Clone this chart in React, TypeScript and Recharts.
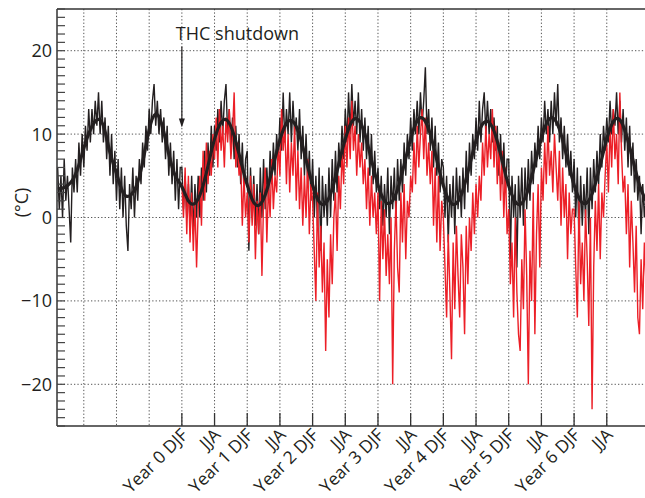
import React from 'react';
import {
  LineChart,
  Line,
  XAxis,
  YAxis,
  CartesianGrid,
  ReferenceLine,
  ReferenceDot,
} from 'recharts';

// samples are ~9 days apart, starting 1.9 years before the shutdown
const START_YEAR = -1.9;
const SAMPLES_PER_YEAR = 40;
const SHUTDOWN_INDEX = 76;
const MEAN_EVERY = 4;

// control run, daily-ish temperature (°C)
const CONTROL = [
  6, 1, 5, 0, 7, 2, 5, 1, -3, 6,
  3, 7, 3, 9, 5, 10, 6, 11, 8, 13,
  9, 13, 10, 14, 11, 15, 10, 14, 9, 12,
  7, 11, 5, 10, 4, 8, 2, 7, 1, 6,
  0, 5, -1, -4, 4, 1, 6, 0, 5, 2,
  7, 4, 9, 6, 11, 8, 13, 10, 14, 16,
  11, 14, 10, 13, 9, 12, 7, 11, 5, 9,
  4, 8, 2, 7, 1, 6,
  // year 0
  6, 1, 5, 0, 4, -1, 5, -2, 4, 0,
  5, 0, 6, 2, 8, 3, 9, 5, 11, 6,
  11, 8, 13, 9, 14, 10, 14, 16, 10, 13,
  8, 12, 7, 11, 6, 10, 4, 9, 3, 7,
  // year 1
  8, -4, 6, 0, 5, -1, 4, -2, 6, 0,
  7, 1, 6, 2, 8, 4, 9, 5, 10, 7,
  12, 8, 15, 9, 13, 10, 15, 9, 14, 10,
  12, 8, 13, 7, 11, 5, 10, 4, 8, 2,
  // year 2
  7, 0, 5, -1, 6, -4, 5, 0, 4, -1,
  6, 0, 7, 2, 8, 3, 9, 6, 11, 7,
  13, 9, 15, 10, 16, 11, 14, 10, 15, 9,
  13, 8, 12, 7, 11, 5, 10, 4, 8, 3,
  // year 3
  6, 1, 5, -1, 4, 0, 6, -2, 5, 1,
  6, 0, 7, 2, 7, 3, 9, 5, 10, 7,
  12, 8, 13, 10, 14, 10, 15, 11, 14, 18,
  10, 13, 8, 12, 6, 11, 5, 9, 3, 7,
  // year 4
  6, 0, 5, -3, 4, 0, 5, -2, 6, 1,
  5, 0, 6, 1, 8, 3, 9, 5, 10, 7,
  12, 8, 14, 9, 13, 15, 10, 14, 10, 13,
  9, 12, 8, 11, 5, 10, 4, 9, 3, 7,
  // year 5
  7, -5, 5, 0, 4, -6, 5, 0, 6, -1,
  6, 1, 7, 2, 8, 4, 9, 6, 11, 7,
  12, 9, 14, 10, 13, 9, 14, 10, 15, 11,
  16, 9, 12, 7, 11, 6, 10, 5, 8, 3,
  // year 6
  7, 0, 6, -3, 5, -1, 4, 0, 6, -2,
  6, 1, 7, 3, 8, 4, 10, 6, 11, 8,
  12, 9, 14, 10, 13, 11, 15, 10, 14, 9,
  13, 8, 12, 6, 11, 5, 9, 3, 7, 2,
  // year 7
  5, -2, 4, 0, 3,
];

// THC shutdown run, starts at Year 0 DJF
const SHUTDOWN = [
  // year 0
  4, 0, 6, -2, 5, -3, 3, -4, 2, -6,
  1, 5, -1, 8, 2, 9, 4, 8, 5, 10,
  7, 12, 6, 13, 8, 11, 6, 12, 9, 13,
  7, 10, 15, 6, 9, 5, 7, -1, 5, 0,
  // year 1
  3, -3, 5, -1, 4, -5, 2, -2, 3, -7,
  2, 6, -3, 4, 0, 7, 1, 5, 3, 9,
  5, 13, 8, 11, 4, 10, 3, 9, 5, 11,
  2, 8, 1, 6, -1, 5, 0, 7, -2, 4,
  // year 2
  2, -4, -10, 3, -6, -1, -9, -3, -16, -5,
  -12, -2, -8, 0, 3, -4, 5, 1, 8, 4,
  11, 6, 12, 7, 14, 8, 11, 5, 10, 6,
  9, 4, 7, 1, 6, -1, 5, 0, 3, -2,
  // year 3
  3, -10, 2, -5, 1, -7, -2, -8, 0, -20,
  -4, 2, -6, -9, 3, -3, 4, -5, 2, 0,
  5, 3, 9, 4, 11, 6, 10, 13, 7, 12,
  5, 9, 4, 8, -1, 6, -3, 5, -4, 2,
  // year 4
  0, -6, -12, -2, -9, -17, -3, -11, -1, -7,
  -12, -2, -6, -14, -1, -8, 0, -4, 3, -2,
  4, 0, 5, 2, 9, 5, 11, 6, 10, 7,
  13, 6, 11, 4, 9, 2, 8, 0, 6, -2,
  // year 5
  1, -8, -3, -12, 0, -9, -14, -16, -5, -11,
  1, -7, -20, -4, -10, 3, -14, -2, 4, -6,
  6, 2, 9, 4, 11, 5, 8, 3, 10, 6,
  2, 8, -1, 6, 0, 4, -5, 3, -2, 1,
  // year 6
  1, -6, -12, 2, -8, -3, -10, 1, -5, -13,
  0, -23, -6, 2, -4, 4, -5, 3, 0, 5,
  9, 3, 11, 6, 13, 7, 10, 4, 15, 8,
  3, 5, -2, 4, -6, 2, -3, -9, -1, -12,
  // year 7
  -14, -5, -11, -3, -8,
];

// smoothed control cycle, one value every 0.1 year
const CONTROL_MEAN = [
  3.4, 3.6, 4.2, 5.7, 8.3, 10.5, 11.7, 11.0, 7.8, 5.3,
  3.0, 2.6, 3.7, 6.6, 10.5, 12.4, 11.0, 7.6, 5.0,
  3.7, 2.0, 1.7, 3.2, 6.2, 9.4, 11.4, 11.6, 9.8, 6.8,
  3.9, 1.8, 1.6, 3.3, 6.3, 9.3, 11.3, 11.5, 9.9, 6.9,
  3.9, 1.9, 1.7, 3.4, 6.4, 9.4, 11.5, 11.7, 10.0, 6.9,
  3.9, 2.0, 1.8, 3.4, 6.3, 9.4, 11.6, 11.8, 10.0, 6.9,
  3.8, 1.9, 1.7, 3.3, 6.2, 9.2, 11.2, 11.4, 9.8, 6.8,
  3.8, 1.9, 1.7, 3.4, 6.4, 9.5, 11.6, 11.8, 10.0, 6.9,
  3.9, 2.0, 1.8, 3.4, 6.3, 9.4, 11.5, 11.7, 9.9, 6.9,
  3.9, 2.0,
];

const X_TICKS = [-1.5, -1, -0.5, 0, 0.5, 1, 1.5, 2, 2.5, 3, 3.5, 4, 4.5, 5, 5.5, 6, 6.5];
const X_LABELS = [
  '', '', '',
  'Year 0 DJF', 'JJA', 'Year 1 DJF', 'JJA', 'Year 2 DJF', 'JJA',
  'Year 3 DJF', 'JJA', 'Year 4 DJF', 'JJA', 'Year 5 DJF', 'JJA',
  'Year 6 DJF', 'JJA',
];
const Y_MAJOR = [-20, -10, 0, 10, 20];
const Y_MINOR = Array.from({ length: 51 }, (_, i) => i - 25);

const FONT = '"Open Sans", sans-serif';
const INK = '#231f20';
const AXIS = '#333';

const data = CONTROL.map((v, i) => ({
  t: START_YEAR + i / SAMPLES_PER_YEAR,
  control: v,
  shutdown: i >= SHUTDOWN_INDEX ? SHUTDOWN[i - SHUTDOWN_INDEX] : null,
  mean: i % MEAN_EVERY === 0 ? CONTROL_MEAN[i / MEAN_EVERY] : null,
}));

const fmt = (v: number) => (v < 0 ? `\u2212${-v}` : `${v}`);

const XTick = ({ x, y, payload }: any) => {
  const label = X_LABELS[X_TICKS.indexOf(payload.value)];
  if (!label) return <g />;
  const ax = x + 7;
  const ay = y + 10;
  return (
    <g>
      <line x1={x} y1={y} x2={x} y2={y - 13} stroke={AXIS} strokeWidth={1.3} />
      <text
        x={ax}
        y={ay}
        textAnchor="end"
        transform={`rotate(-45 ${ax} ${ay})`}
        fontSize={17.5}
        fontFamily={FONT}
        fill={INK}
      >
        {label}
      </text>
    </g>
  );
};

const LeftTick = ({ x, y, payload }: any) => (
  <g>
    <line x1={x} y1={y} x2={x + 8} y2={y} stroke="#444" strokeWidth={1.2} />
    {Y_MAJOR.includes(payload.value) && (
      <text x={x - 5} y={y} dy="0.36em" textAnchor="end" fontSize={18} fontFamily={FONT} fill={INK}>
        {fmt(payload.value)}
      </text>
    )}
  </g>
);

const RightTick = ({ x, y }: any) => (
  <line x1={x - 8} y1={y} x2={x} y2={y} stroke="#444" strokeWidth={1.2} />
);

const YLabel = () => (
  <text
    x={27.5}
    y={202.5}
    textAnchor="middle"
    transform="rotate(-90 27.5 202.5)"
    fontSize={18}
    fontFamily={FONT}
    fill={INK}
  >
    (°C)
  </text>
);

const ArrowHead = ({ cx, cy }: any) => (
  <polygon points={`${cx},${cy} ${cx - 3},${cy - 9} ${cx + 3},${cy - 9}`} fill={INK} />
);

const NoteText = ({ cx, cy }: any) => (
  <text x={cx - 6} y={cy} fontSize={18} fontFamily={FONT} fill={INK}>
    THC shutdown
  </text>
);

export default function App() {
  return (
    <div style={{ position: 'absolute', left: 0, top: 0, width: 645, height: 498, overflow: 'hidden', background: '#fff' }}>
      <LineChart width={656} height={498} data={data} margin={{ top: 9, right: 0, bottom: 0, left: 0 }}>
        <CartesianGrid
          stroke="#555"
          strokeDasharray="1.3 2.1"
          horizontalValues={Y_MAJOR}
          verticalValues={X_TICKS}
        />
        <XAxis
          dataKey="t"
          type="number"
          domain={[-1.91, 7.1]}
          allowDataOverflow
          ticks={X_TICKS}
          interval={0}
          height={72}
          tickSize={0}
          tickMargin={0}
          tickLine={false}
          tick={<XTick />}
          axisLine={{ stroke: AXIS, strokeWidth: 1.5 }}
        />
        <YAxis
          type="number"
          domain={[-25, 25]}
          ticks={Y_MINOR}
          interval={0}
          width={57}
          tickSize={0}
          tickMargin={0}
          tickLine={false}
          tick={<LeftTick />}
          axisLine={{ stroke: AXIS, strokeWidth: 1.5 }}
          label={<YLabel />}
        />
        <YAxis
          yAxisId="right"
          orientation="right"
          type="number"
          domain={[-25, 25]}
          ticks={Y_MINOR}
          interval={0}
          width={10}
          tickSize={0}
          tickMargin={0}
          tickLine={false}
          tick={<RightTick />}
          axisLine={{ stroke: AXIS, strokeWidth: 1.5 }}
        />
        <ReferenceLine y={25} stroke={AXIS} strokeWidth={1.5} />
        <Line
          dataKey="control"
          type="linear"
          stroke={INK}
          strokeWidth={1.4}
          dot={false}
          activeDot={false}
          isAnimationActive={false}
        />
        <Line
          dataKey="shutdown"
          type="linear"
          stroke="#ec1f27"
          strokeWidth={1.4}
          dot={false}
          activeDot={false}
          isAnimationActive={false}
        />
        <Line
          dataKey="mean"
          type="natural"
          connectNulls
          stroke={INK}
          strokeWidth={3.2}
          dot={false}
          activeDot={false}
          isAnimationActive={false}
        />
        <ReferenceLine
          segment={[{ x: 0, y: 20.5 }, { x: 0, y: 11.8 }]}
          stroke={INK}
          strokeWidth={1.2}
        />
        <ReferenceDot x={0} y={10.8} r={0} shape={<ArrowHead />} />
        <ReferenceDot x={0} y={21.3} r={0} shape={<NoteText />} />
      </LineChart>
    </div>
  );
}
